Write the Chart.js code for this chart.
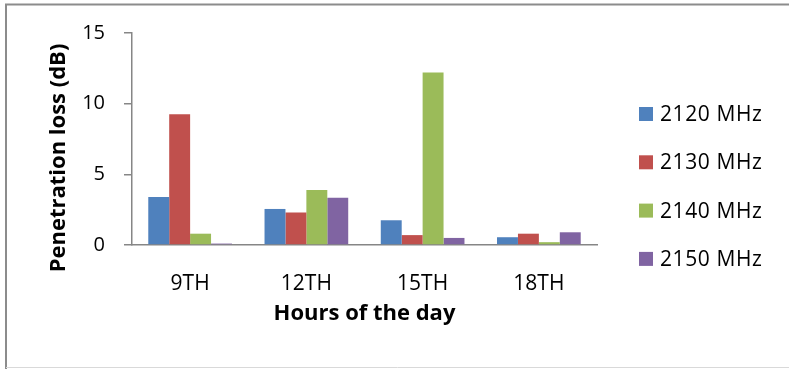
<!DOCTYPE html>
<html>
<head>
<meta charset="utf-8">
<script src="https://cdn.jsdelivr.net/npm/chart.js@4"></script>
<style>
  html, body { margin: 0; padding: 0; background: #fff; }
  canvas { display: block; }
</style>
</head>
<body>
<canvas id="lossChart" width="789" height="369"></canvas>
<script>
// --- data ---
const hours = ['9TH', '12TH', '15TH', '18TH'];
const bandLabels = ['2120 MHz', '2130 MHz', '2140 MHz', '2150 MHz'];
const loss2120 = [3.4, 2.55, 1.75, 0.55];
const loss2130 = [9.25, 2.3, 0.7, 0.8];
const loss2140 = [0.8, 3.9, 12.2, 0.2];
const loss2150 = [0.1, 3.35, 0.5, 0.9];
const yTicks = [0, 5, 10, 15];

const bandColors = ['#4F81BD', '#C0504D', '#9BBB59', '#8064A2'];
const seriesValues = [loss2120, loss2130, loss2140, loss2150];
const axisGrey = '#868686';

Chart.defaults.font.family = "'Open Sans', sans-serif";
Chart.defaults.color = '#000';

// frame, y title and legend drawn by hand (Excel style placement)
const excelBits = {
    id: 'excelBits',
    beforeDraw(chart) {
        const ctx = chart.ctx;
        ctx.save();
        ctx.strokeStyle = '#8c8c8c';
        ctx.lineWidth = 2;
        ctx.beginPath();
        ctx.moveTo(6, 369);
        ctx.lineTo(6, 4.5);
        ctx.lineTo(789, 4.5);
        ctx.stroke();
        ctx.strokeStyle = '#d9d9d9';
        ctx.lineWidth = 1;
        ctx.beginPath();
        ctx.moveTo(6, 367.5);
        ctx.lineTo(789, 367.5);
        ctx.stroke();
        ctx.restore();
    },
    afterDraw(chart) {
        const ctx = chart.ctx;
        ctx.save();
        // y axis title
        ctx.translate(65, 158);
        ctx.rotate(-Math.PI / 2);
        ctx.font = "bold 22px 'Open Sans'";
        ctx.fillStyle = '#000';
        ctx.textAlign = 'center';
        ctx.textBaseline = 'alphabetic';
        ctx.fillText('Penetration loss (dB)', 0, 0);
        ctx.restore();

        // legend
        ctx.save();
        ctx.font = "21px 'Open Sans'";
        ctx.textBaseline = 'middle';
        ctx.textAlign = 'left';
        ctx.letterSpacing = '0.6px';
        chart.data.datasets.forEach((ds, i) => {
            const cy = 114 + i * 48.3;
            ctx.fillStyle = ds.backgroundColor;
            ctx.fillRect(639, cy - 7, 14, 14);
            ctx.fillStyle = '#000';
            ctx.fillText(ds.label, 660, cy + 1);
        });
        ctx.restore();
    }
};

new Chart(document.getElementById('lossChart'), {
    type: 'bar',
    data: {
        labels: hours,
        datasets: seriesValues.map((vals, i) => ({
            label: bandLabels[i],
            data: vals,
            backgroundColor: bandColors[i],
            borderWidth: 0,
            categoryPercentage: 0.72,
            barPercentage: 1
        }))
    },
    options: {
        responsive: false,
        animation: false,
        layout: { padding: { top: 33, right: 192, bottom: 0, left: 0 } },
        plugins: {
            legend: { display: false },
            tooltip: { enabled: false }
        },
        scales: {
            x: {
                grid: { display: false },
                border: { display: true, color: axisGrey, width: 1.5 },
                ticks: { font: { size: 21 }, padding: 18, maxRotation: 0 },
                title: {
                    display: true,
                    text: 'Hours of the day',
                    font: { size: 22, weight: 'bold' },
                    padding: { top: 4, bottom: 42 }
                },
                afterFit(scale) { scale.height = 124; }
            },
            y: {
                min: 0,
                max: 15,
                afterBuildTicks(scale) { scale.ticks = yTicks.map(v => ({ value: v })); },
                grid: { drawOnChartArea: false, drawTicks: true, tickLength: 8, color: axisGrey, lineWidth: 1.5 },
                border: { display: true, color: axisGrey, width: 1.5 },
                ticks: { font: { size: 20 }, padding: 19 },
                afterFit(scale) { scale.width = 132; }
            }
        }
    },
    plugins: [excelBits]
});
</script>
</body>
</html>
